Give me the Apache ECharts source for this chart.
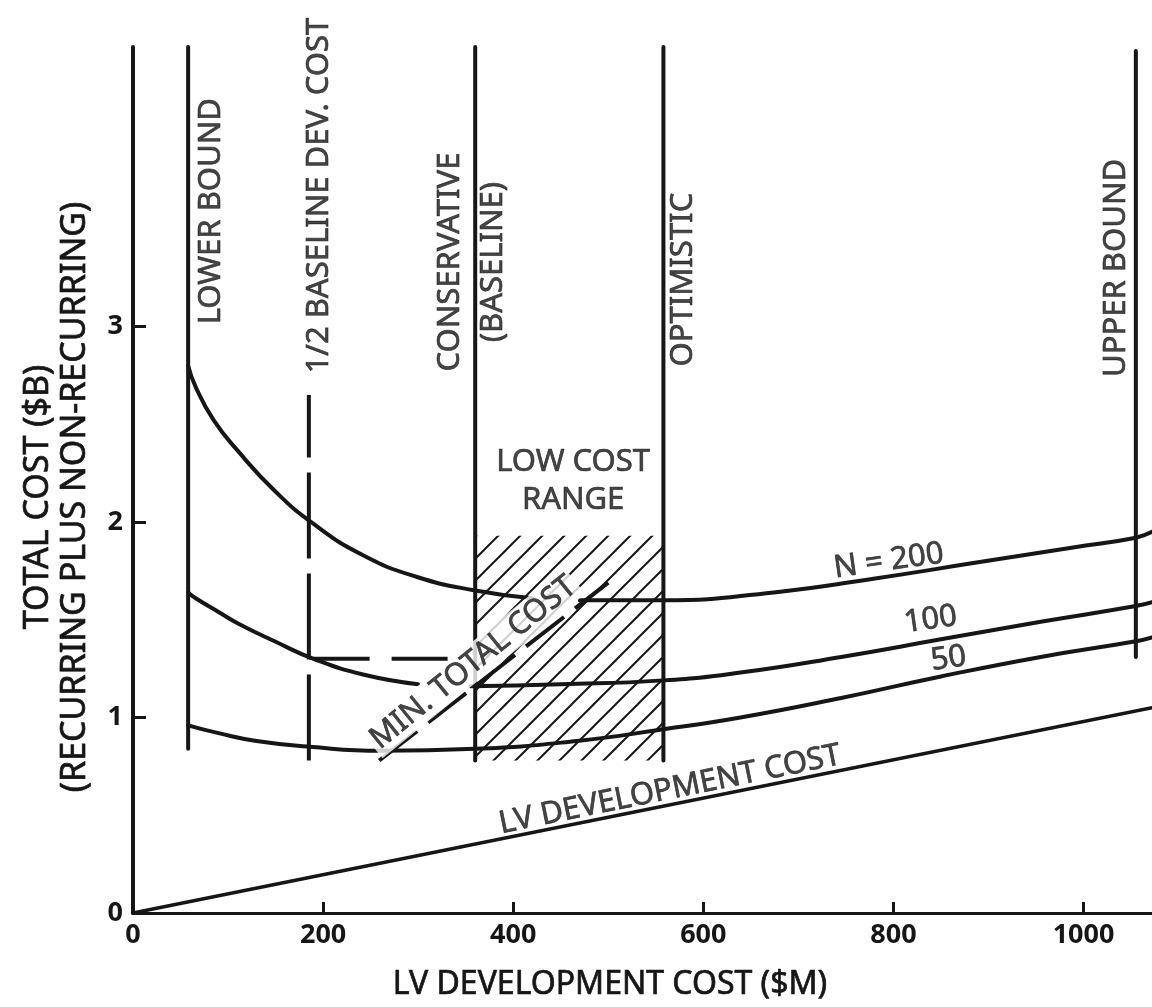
<!DOCTYPE html>
<html>
<head>
<meta charset="utf-8">
<script src="https://cdn.jsdelivr.net/npm/echarts@6/dist/echarts.min.js"></script>
<style>
html,body{margin:0;padding:0;background:#fff;}
#chart{width:1152px;height:1007px;}
</style>
</head>
<body>
<div id="chart"></div>
<script>
// ---------- data ----------
const xTickValues = [0, 200, 400, 600, 800, 1000];
const yTickValues = [0, 1, 2, 3];
const xRange = [0, 1072];
const yRange = [0, 4.43];

// vertical reference lines
const refNames  = ['LOWER BOUND', '1/2 BASELINE DEV. COST', 'CONSERVATIVE', 'OPTIMISTIC', 'UPPER BOUND'];
const refX      = [58, 185, 360, 558, 1055];
const refTop    = [4.43, 2.65, 4.43, 4.43, 4.41];
const refBottom = [0.84, 0.78, 0.78, 0.78, 1.31];

// total-cost curves (x = LV dev cost $M, y = total cost $B)
const n200Left  = [[58,2.80],[66,2.69],[85,2.52],[111,2.36],[149,2.16],[190,1.99],[242,1.83],[298,1.72],[360,1.65],[420,1.61]];
const n200Right = [[470,1.60],[558,1.60],[674,1.64],[779,1.71],[884,1.79],[989,1.87],[1055,1.92],[1072,1.95]];
const n100Left  = [[58,1.64],[66,1.61],[90,1.54],[111,1.48],[149,1.39],[190,1.30],[242,1.22],[300,1.17]];
const n100Right = [[355,1.16],[450,1.17],[558,1.19],[639,1.23],[745,1.31],[850,1.40],[955,1.49],[1055,1.57],[1072,1.59]];
const n50Curve  = [[58,0.96],[90,0.92],[130,0.88],[186,0.85],[261,0.83],[360,0.84],[467,0.88],[558,0.94],[639,1.00],[745,1.10],[850,1.21],[955,1.31],[1055,1.39],[1072,1.41]];
const lvDevCost = [[0,0],[1072,1.05]];
const halfDevLink = [[190,1.30],[336,1.30]];
const minTotalCost = [[259,0.78],[500,1.69]];

// low cost range (hatched)
const lowCostX = [360, 558];
const lowCostY = [0.78, 1.93];

// text annotations
const annoText = ['LOWER BOUND','1/2 BASELINE DEV. COST','CONSERVATIVE','(BASELINE)','OPTIMISTIC','UPPER BOUND','LOW COST\nRANGE','N = 200','100','50','MIN. TOTAL COST','LV DEVELOPMENT COST'];
const annoX    = [82, 196, 334, 379, 579, 1034, 463, 795, 839, 858, 358, 565];
const annoY    = [3.59, 3.67, 3.33, 3.33, 3.24, 3.30, 2.21, 1.80, 1.50, 1.30, 1.28, 0.63];
const annoRot  = [90, 90, 90, 90, 90, 90, 0, 8, 8, 8, 39, 11.5];

// ---------- styling ----------
const INK = '#161616';
const FONT = '"Noto Sans", "DejaVu Sans", sans-serif';

function hatchPattern() {
  const s = 22;
  const c = document.createElement('canvas');
  c.width = s; c.height = s;
  const g = c.getContext('2d');
  g.strokeStyle = INK;
  g.lineWidth = 2;
  [0, s, 2 * s].forEach(function (k) {
    g.beginPath();
    g.moveTo(k - s - 2, s + 2);
    g.lineTo(k + 2, -2);
    g.stroke();
  });
  return c;
}

function curve(data, width, extra) {
  return Object.assign({
    type: 'line', data: data, symbol: 'none', smooth: 0.5,
    lineStyle: { color: INK, width: width, cap: 'round', join: 'round' },
    z: 3, silent: true
  }, extra || {});
}

const series = [];

series.push(curve(lvDevCost, 3.5, {
  smooth: false,
  markArea: {
    silent: true,
    itemStyle: { color: { image: hatchPattern(), repeat: 'repeat' }, borderWidth: 0 },
    data: [[{ xAxis: lowCostX[0], yAxis: lowCostY[0] }, { xAxis: lowCostX[1], yAxis: lowCostY[1] }]]
  }
}));

[n200Left, n200Right, n100Left, n100Right, n50Curve].forEach(function (d) {
  series.push(curve(d, 4));
});

refX.forEach(function (x, i) {
  const dashed = i === 1;
  series.push({
    type: 'line', symbol: 'none', silent: true, z: 4,
    data: [[x, refBottom[i]], [x, refTop[i]]],
    lineStyle: { color: INK, width: 4, cap: dashed ? 'butt' : 'round', type: dashed ? [86, 15] : 'solid' }
  });
});

series.push({
  type: 'line', symbol: 'none', silent: true, z: 4, data: halfDevLink,
  lineStyle: { color: INK, width: 4, type: [56, 22] }
});

series.push({
  type: 'line', symbol: 'none', silent: true, z: 4, data: minTotalCost,
  lineStyle: { color: INK, width: 4, type: [48, 14] }
});

series.push({
  type: 'scatter', symbolSize: 1, silent: true, z: 10,
  itemStyle: { color: 'transparent' },
  data: annoText.map(function (t, i) {
    const isMin = t.indexOf('MIN') === 0;
    return {
      value: [annoX[i], annoY[i]], name: t,
      label: {
        show: true, position: 'inside', rotate: annoRot[i],
        formatter: '{b}', color: INK, fontFamily: FONT, fontSize: 31,
        textBorderColor: INK, textBorderWidth: 0.7,
        lineHeight: t.indexOf('\n') >= 0 ? 38 : 34, align: 'center',
        backgroundColor: isMin ? '#fff' : 'transparent',
        padding: isMin ? [0, 3] : 0
      }
    };
  })
});

const chart = echarts.init(document.getElementById('chart'), null, { renderer: 'canvas' });
chart.setOption({
  animation: false,
  backgroundColor: '#fff',
  grid: { left: 133, right: 0, top: 47, bottom: 94, containLabel: false },
  xAxis: {
    type: 'value', min: xRange[0], max: xRange[1],
    splitLine: { show: false },
    axisLine: { show: true, lineStyle: { color: INK, width: 3 } },
    axisTick: { show: true, inside: true, length: 11, customValues: xTickValues.slice(1), lineStyle: { color: INK, width: 3 } },
    axisLabel: { customValues: xTickValues, formatter: function (v) { return String(v); }, color: INK, fontFamily: FONT, fontSize: 27, fontWeight: 'bold', margin: 9 }
  },
  yAxis: {
    type: 'value', min: yRange[0], max: yRange[1],
    splitLine: { show: false },
    axisLine: { show: true, lineStyle: { color: INK, width: 4 } },
    axisTick: { show: true, inside: true, length: 13, customValues: yTickValues.slice(1), lineStyle: { color: INK, width: 3 } },
    axisLabel: { customValues: yTickValues, formatter: function (v) { return String(v); }, color: INK, fontFamily: FONT, fontSize: 27, fontWeight: 'bold', margin: 10 }
  },
  graphic: [
    { type: 'text', x: 610, y: 985, silent: true,
      style: { text: 'LV DEVELOPMENT COST ($M)', fill: INK, stroke: INK, lineWidth: 0.7, font: '32px ' + FONT, textAlign: 'center', textVerticalAlign: 'middle' } },
    { type: 'text', x: 38, y: 497, rotation: Math.PI / 2, silent: true,
      style: { text: 'TOTAL COST ($B)', fill: INK, stroke: INK, lineWidth: 0.7, font: '34px ' + FONT, textAlign: 'center', textVerticalAlign: 'middle' } },
    { type: 'text', x: 75, y: 497, rotation: Math.PI / 2, silent: true,
      style: { text: '(RECURRING PLUS NON-RECURRING)', fill: INK, stroke: INK, lineWidth: 0.7, font: '34px ' + FONT, textAlign: 'center', textVerticalAlign: 'middle' } }
  ],
  series: series
});
</script>
</body>
</html>
